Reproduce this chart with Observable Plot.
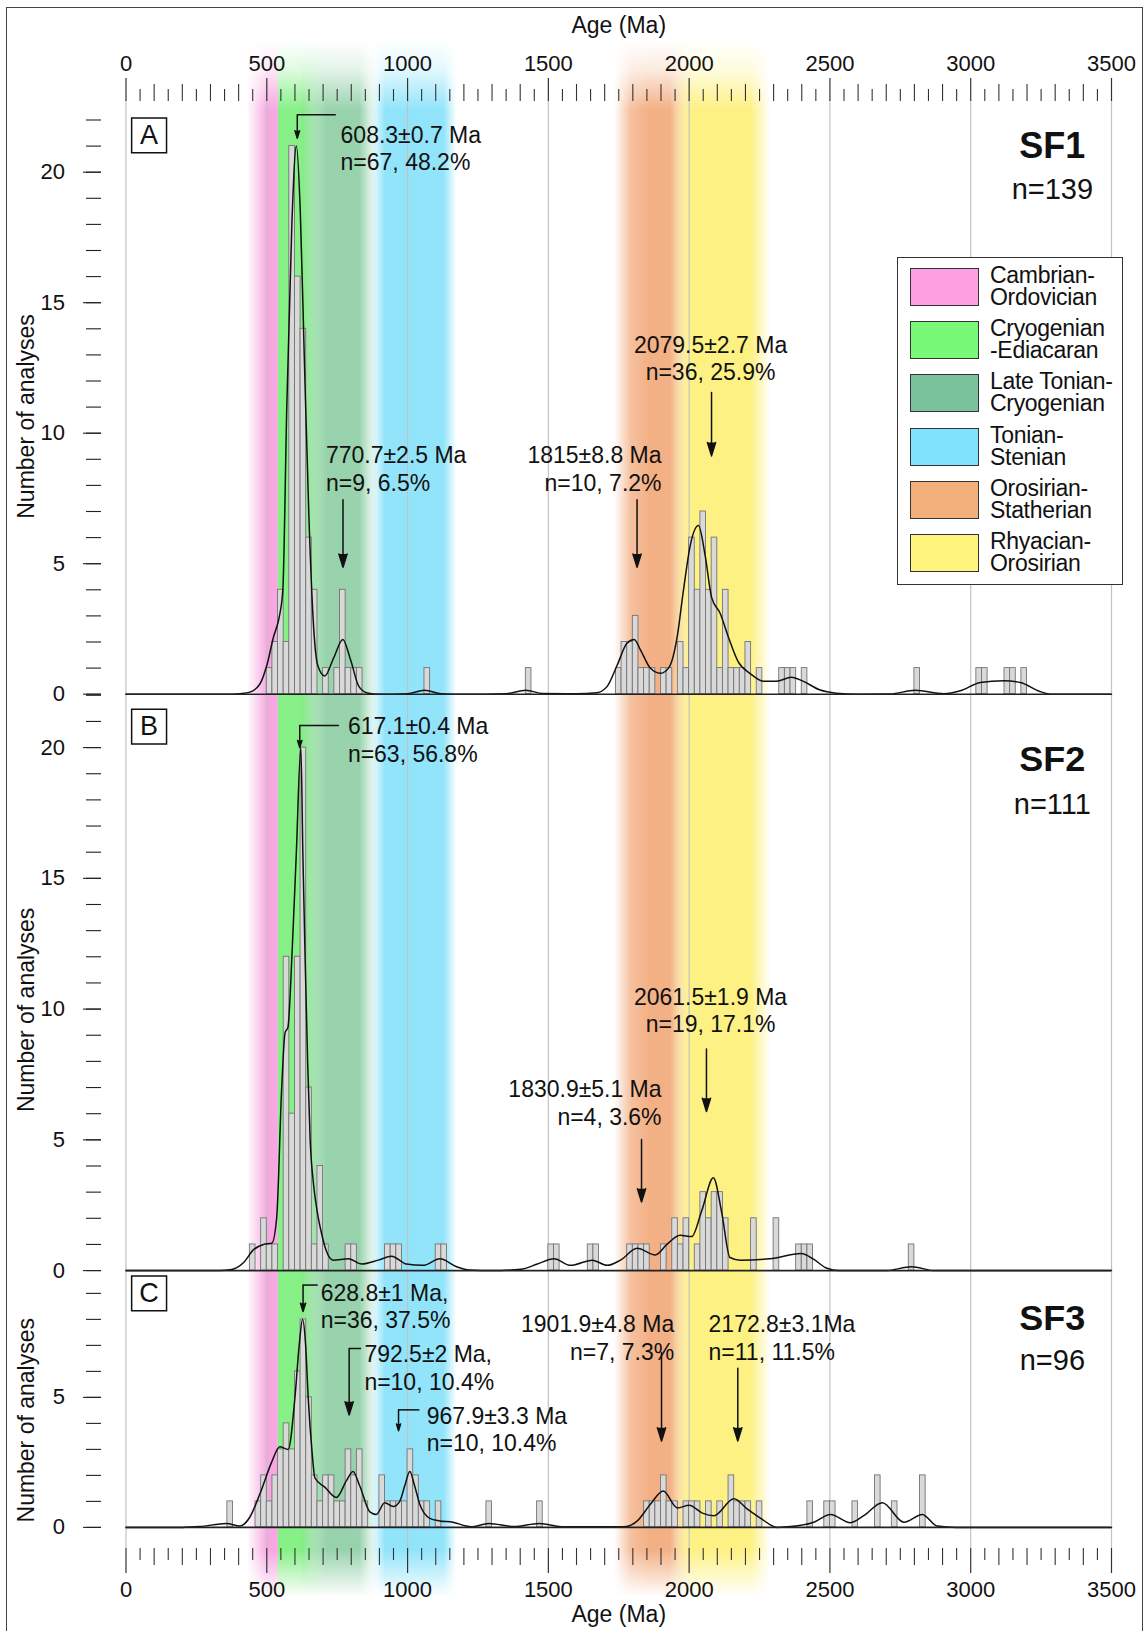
<!DOCTYPE html>
<html>
<head>
<meta charset="utf-8">
<script src="https://cdn.jsdelivr.net/npm/d3@7"></script>
<script src="https://cdn.jsdelivr.net/npm/@observablehq/plot@0.6"></script>
<style>
  html,body{margin:0;padding:0;background:#fff;}
  #fig{position:relative;width:1144px;height:1631px;overflow:hidden;font-family:"Liberation Sans",Arial,Helvetica,sans-serif;color:#111;}
  #fig > svg{position:absolute;left:0;}
  #frame{position:absolute;left:6px;top:7px;width:1137px;height:1630px;border:1.5px solid #444;box-sizing:border-box;pointer-events:none;}
  #legend{position:absolute;left:897px;top:257px;width:226px;height:328px;border:1.5px solid #333;box-sizing:border-box;background:#fff;}
  .item{position:absolute;left:0;width:100%;height:40px;}
  .sw{position:absolute;left:12px;top:0;width:69px;height:38px;border:1.5px solid #333;box-sizing:border-box;}
  .lab{position:absolute;left:92px;top:-4px;font-size:23px;line-height:22px;white-space:pre;color:#111;letter-spacing:-0.3px;}
</style>
</head>
<body>
<div id="fig"><div id="frame"></div></div>
<script>
// ---------------- DATA ----------------
const ageTicks = [0, 500, 1000, 1500, 2000, 2500, 3000, 3500];
const ageHundredTicks = d3.range(100, 3500, 100).filter(d => d % 500 !== 0);
const ageFiftyTicks = d3.range(50, 3500, 100);
const binWidth = 20;

const bandNames = ["Cambrian-Ordovician", "Cryogenian-Ediacaran", "Late Tonian-Cryogenian", "Tonian-Stenian", "Orosirian-Statherian", "Rhyacian-Orosirian"];
const bandLegend = ["Cambrian-\nOrdovician", "Cryogenian\n-Ediacaran", "Late Tonian-\nCryogenian", "Tonian-\nStenian", "Orosirian-\nStatherian", "Rhyacian-\nOrosirian"];
const bandFrom = [430, 541, 620, 870, 1735, 1940];
const bandTo = [541, 720, 890, 1175, 2010, 2290];

const samples = ["SF1", "SF2", "SF3"];
const panelLetters = ["A", "B", "C"];
const sampleN = [139, 111, 96];

// Panel A (SF1) histogram
const binsA = [500,520,540,560,580,600,620,640,660,700,740,760,780,800,820,1060,1420,1740,1760,1780,1800,1820,1840,1860,1900,1920,1960,1980,2000,2020,2040,2060,2080,2100,2120,2140,2160,2180,2200,2240,2320,2340,2360,2400,2800,3020,3040,3120,3140,3180];
const countsA = [1,2,4,2,21,16,14,6,4,1,1,4,1,1,1,1,1,1,2,2,3,1,1,1,1,1,2,1,6,4,7,4,6,1,4,1,1,1,2,1,1,1,1,1,1,1,1,1,1,1];
// Panel A probability density curve
const curveAgeA = [0,380,405,440,476,500,524,545,557,571,589,605,619,633,649,664,681,706,738,770,798,827,857,900,1000,1060,1120,1200,1350,1420,1480,1600,1673,1709,1744,1779,1805,1827,1862,1897,1927,1956,1980,2004,2033,2057,2080,2110,2139,2174,2216,2263,2310,2363,2404,2463,2522,2600,2714,2803,2904,2963,3034,3117,3176,3247,3282,3500];
const curveDenA = [0,0,0.02,0.08,0.4,1.1,2.2,3.0,4.0,11,18,21,18.5,13,7,3,1.1,0.7,1.4,2.1,1.3,0.3,0.05,0,0.02,0.15,0.02,0,0.02,0.15,0.03,0.02,0.06,0.3,1.1,1.95,2.1,1.7,1.0,0.8,1.0,2.1,4.0,5.7,6.46,5.3,3.7,3.1,2.2,1.25,0.8,0.5,0.5,0.65,0.5,0.17,0.04,0,0.01,0.15,0.02,0.13,0.45,0.52,0.45,0.1,0,0];

// Panel B (SF2)
const binsB = [440,480,500,520,560,580,600,620,640,660,680,700,780,800,920,940,960,1100,1120,1500,1520,1640,1660,1780,1800,1820,1840,1900,1940,1960,1980,2020,2040,2060,2080,2100,2120,2220,2300,2380,2400,2420,2780];
const countsB = [1,2,1,1,12,6,12,20,7,1,4,1,1,1,1,1,1,1,1,1,1,1,1,1,1,1,1,1,2,1,2,1,3,2,3,3,2,2,2,1,1,1,1];
const curveAgeB = [0,330,370,417,453,488,518,535,553,565,575,590,605,621,628,636,645,654,666,680,695,710,736,790,837,896,943,996,1055,1115,1174,1221,1300,1402,1461,1520,1579,1656,1709,1756,1815,1880,1921,1968,2009,2045,2086,2116,2145,2181,2287,2398,2440,2487,2534,2700,2790,2870,3500];
const curveDenB = [0,0,0.03,0.3,0.8,1.0,1.05,2,7,9.1,9.3,12.2,16,20,16,12,8,5,3.3,2.2,1.4,0.8,0.4,0.45,0.25,0.4,0.55,0.25,0.2,0.45,0.15,0.02,0,0.05,0.25,0.45,0.2,0.4,0.2,0.4,0.85,0.6,1.0,1.35,1.3,2.3,3.55,2.2,0.5,0.4,0.45,0.65,0.45,0.1,0,0,0.15,0,0];

// Panel C (SF3)
const binsC = [360,460,480,500,520,540,560,580,600,620,640,660,680,700,720,740,760,780,800,820,840,900,920,940,960,980,1000,1020,1040,1060,1100,1280,1460,1840,1860,1880,1900,1920,1940,1980,2000,2020,2060,2100,2140,2160,2180,2200,2240,2420,2480,2500,2580,2660,2720,2820];
const countsC = [1,1,2,1,2,3,4,3,6,8,5,2,1,2,2,1,1,3,2,3,1,2,1,1,1,1,3,2,1,1,1,1,1,1,1,1,2,1,1,1,1,1,1,1,2,1,1,1,1,1,1,1,1,2,1,2];
const curveAgeC = [0,200,262,357,404,440,476,517,546,576,600,615,627,638,647,660,671,706,747,783,806,830,866,889,919,949,972,990,1008,1025,1043,1079,1114,1161,1208,1224,1289,1378,1467,1556,1769,1816,1863,1908,1958,2000,2047,2088,2159,2207,2254,2313,2360,2443,2502,2573,2620,2686,2763,2828,2881,2950,3500];
const curveDenC = [0,0,0.03,0.15,0.05,0.4,1.3,2.5,3.1,3.0,5,7,8.0,7,5,3,1.9,1.55,1.15,1.8,2.15,1.6,0.6,0.5,0.95,0.8,1.0,1.6,2.15,1.6,0.9,0.35,0.25,0.2,0.05,0.02,0.15,0.03,0.15,0.02,0.02,0.25,0.9,1.4,0.75,0.85,0.55,0.45,1.1,0.7,0.35,0,0.03,0.2,0.5,0.18,0.45,0.95,0.2,0.5,0.05,0,0];

// Peak annotations (age of arrow, label, placement in data units)
const peakA = {age:[608.3,770.7,1815,2079.5], text:["608.3±0.7 Ma\nn=67, 48.2%","770.7±2.5 Ma\nn=9, 6.5%","1815±8.8 Ma\nn=10, 7.2%","2079.5±2.7 Ma\nn=36, 25.9%"],
  tx:[762,710,1902,2076], ty:[20.94,8.65,8.65,12.9], anchor:["start","start","end","middle"], elbow:[745,null,null,null], yTop:[22.2,7.45,7.45,11.56], yTip:[21.3,4.86,4.86,9.13]};
const peakB = {age:[617.1,1830.9,2061.5], text:["617.1±0.4 Ma\nn=63, 56.8%","1830.9±5.1 Ma\nn=4, 3.6%","2061.5±1.9 Ma\nn=19, 17.1%"],
  tx:[788,1902,2076], ty:[20.32,6.44,9.98], anchor:["start","end","middle"], elbow:[756,null,null], yTop:[20.84,5.01,8.47], yTip:[20.0,2.62,6.08]};
const peakC = {age:[628.8,792.5,967.9,1901.9,2172.8], text:["628.8±1 Ma,\nn=36, 37.5%","792.5±2 Ma,\nn=10, 10.4%","967.9±3.3 Ma\nn=10, 10.4%","1901.9±4.8 Ma\nn=7, 7.3%","2172.8±3.1Ma\nn=11, 11.5%"],
  tx:[691.6,846.6,1068,1947,2069], ty:[8.52,6.16,3.8,7.32,7.32], anchor:["start","start","start","end","start"], elbow:[681,835,1042,null,null], yTop:[9.32,6.88,4.52,6.72,6.12], yTip:[8.3,4.32,3.72,3.32,3.32]};

// ---------------- STYLE ----------------
const FONT = '"Liberation Sans", Arial, Helvetica, sans-serif';
const W = 1144, ML = 125.5, MR = 33;
const bandColor = ["#f6a2df", "#80ef80", "#86cb9f", "#88e2fa", "#f2a878", "#fdf07c"];
const legendColor = ["#fd9fe0", "#78fa78", "#79c29b", "#80e2fc", "#f1b07c", "#fff47c"];
const bandStops = [
  [[0,0],[0.3,0.4],[0.6,0.85],[0.68,0.95],[1,0.95]],
  [[0,0.95],[0.5,0.95],[1,0]],
  [[0,0],[0.35,0.85],[0.78,0.85],[1,0]],
  [[0,0],[0.17,0.92],[0.85,0.92],[1,0]],
  [[0,0],[0.22,0.72],[0.45,0.9],[0.72,0.9],[1,0]],
  [[0,0],[0.2,0.95],[0.8,0.95],[1,0]]
];

const fig = d3.select("#fig");

// ---------------- BACKGROUND: bands, grid, age axes ----------------
const bg = Plot.plot({
  width: W, height: 1631, marginLeft: ML, marginRight: MR, marginTop: 100, marginBottom: 83,
  x: {domain: [0, 3500]}, y: {domain: [0, 1], axis: null},
  style: {background: "transparent", overflow: "visible", fontFamily: FONT, color: "#111"},
  marks: [
    ...bandNames.map((n, i) => Plot.rect([i], {x1: j => bandFrom[j], x2: j => bandTo[j], insetTop: -65, insetBottom: -47, fill: `url(#band${i})`})),
    Plot.ruleX(ageTicks, {stroke: "#c2c2c2", strokeWidth: 1.2}),
    Plot.axisX({anchor: "top", ticks: ageFiftyTicks, tickSize: 12, tickFormat: () => "", label: null, stroke: "#333", strokeWidth: 1.1}),
    Plot.axisX({anchor: "top", ticks: ageHundredTicks, tickSize: 17, tickFormat: () => "", label: null, stroke: "#333", strokeWidth: 1.1}),
    Plot.axisX({anchor: "top", ticks: ageTicks, tickSize: 23, tickPadding: 7, tickFormat: "d", label: null, fontSize: 22, stroke: "#333", strokeWidth: 1.2}),
    Plot.axisX({anchor: "bottom", ticks: ageFiftyTicks, tickSize: 12, tickFormat: () => "", label: null, stroke: "#333", strokeWidth: 1.1}),
    Plot.axisX({anchor: "bottom", ticks: ageHundredTicks, tickSize: 17, tickFormat: () => "", label: null, stroke: "#333", strokeWidth: 1.1}),
    Plot.axisX({anchor: "bottom", ticks: ageTicks, tickSize: 25, tickPadding: 8, tickFormat: "d", label: null, fontSize: 22, stroke: "#333", strokeWidth: 1.2}),
    Plot.text(["Age (Ma)"], {frameAnchor: "top", lineAnchor: "middle", dy: -75, fontSize: 23, fill: "#111"}),
    Plot.text(["Age (Ma)"], {frameAnchor: "bottom", lineAnchor: "middle", dy: 66, fontSize: 23, fill: "#111"})
  ]
});
bg.style.top = "0px";
fig.node().appendChild(bg);
{
  const s = d3.select(bg);
  const defs = s.insert("defs", ":first-child");
  bandNames.forEach((n, i) => {
    const g = defs.append("linearGradient").attr("id", "band" + i).attr("x1", 0).attr("x2", 1).attr("y1", 0).attr("y2", 0);
    bandStops[i].forEach(([o, a]) => g.append("stop").attr("offset", o).attr("stop-color", bandColor[i]).attr("stop-opacity", a));
  });
  const vg = defs.append("linearGradient").attr("id", "vgrad").attr("gradientUnits", "userSpaceOnUse").attr("x1", 0).attr("x2", 0).attr("y1", 0).attr("y2", 1631);
  [[0, "#000"], [40 / 1631, "#000"], [70 / 1631, "#444"], [110 / 1631, "#fff"], [1550 / 1631, "#fff"], [1597 / 1631, "#000"], [1, "#000"]]
    .forEach(([o, c]) => vg.append("stop").attr("offset", o).attr("stop-color", c));
  const m = defs.append("mask").attr("id", "vfade").attr("maskUnits", "userSpaceOnUse").attr("x", 0).attr("y", 0).attr("width", W).attr("height", 1631);
  m.append("rect").attr("width", W).attr("height", 1631).attr("fill", "url(#vgrad)");
  s.selectAll('g[aria-label="rect"]').attr("mask", "url(#vfade)");
}

// ---------------- PANELS ----------------
function panelPlot(p) {
  const idx = d3.range(p.bins.length);
  const cidx = d3.range(p.curveAge.length);
  const a = p.anno;
  const aidx = d3.range(a.age.length);
  const elbowIdx = aidx.filter(i => a.elbow[i] != null);
  const textMarks = ["start", "middle", "end"].map(anc =>
    Plot.text(aidx.filter(i => a.anchor[i] === anc), {x: i => a.tx[i], y: i => a.ty[i], text: i => a.text[i], textAnchor: anc, fontSize: 23, lineHeight: 1.2, fill: "#111"}));
  const plot = Plot.plot({
    width: W, height: p.height, marginLeft: ML, marginRight: MR, marginTop: p.mt, marginBottom: p.mb,
    x: {domain: [0, 3500], axis: null}, y: {domain: [0, p.yMax], axis: null},
    style: {background: "transparent", overflow: "visible", fontFamily: FONT, color: "#111"},
    marks: [
      Plot.rect(idx, {x1: i => p.bins[i], x2: i => p.bins[i] + binWidth, y1: () => 0, y2: i => p.counts[i], fill: "#d9d9d9", stroke: "#747474", strokeWidth: 0.9}),
      Plot.line(cidx, {x: i => p.curveAge[i], y: i => p.curveDen[i], curve: "monotone-x", stroke: "#111", strokeWidth: 1.5}),
      Plot.ruleY([0], {stroke: "#222", strokeWidth: 1.6}),
      Plot.axisY({ticks: p.minorY, tickSize: 15, dx: -24.5, tickFormat: () => "", label: null, stroke: "#222", strokeWidth: 1.1}),
      Plot.axisY({ticks: p.majorY, tickSize: 18, dx: -24.5, tickPadding: 18.5, tickFormat: "d", label: null, fontSize: 22, stroke: "#222", strokeWidth: 1.1}),
      Plot.text([p.yLabelAt], {y: d => d, frameAnchor: "left", textAnchor: "middle", lineAnchor: "middle", dx: -99.5, rotate: -90, text: () => "Number of analyses", fontSize: 23, fill: "#111"}),
      Plot.link(elbowIdx, {x1: i => a.elbow[i], y1: i => a.yTop[i], x2: i => a.age[i], y2: i => a.yTop[i], stroke: "#111", strokeWidth: 1.5}),
      Plot.arrow(aidx, {x1: i => a.age[i], y1: i => a.yTop[i], x2: i => a.age[i], y2: i => a.yTip[i], stroke: "#111", strokeWidth: 1.5, headLength: 14, headAngle: 34}),
      ...textMarks,
      Plot.dot([p.letter], {x: () => p.boxX, y: () => p.boxY, symbol: "square", r: 19.7, fill: "#fff", stroke: "#111", strokeWidth: 1.5}),
      Plot.text([p.letter], {x: () => p.boxX, y: () => p.boxY, text: d => d, fontSize: 27, fill: "#111"}),
      Plot.text([p.sample], {x: () => p.labX, y: () => p.sY, text: d => d, fontSize: 36, fontWeight: "bold", fill: "#111"}),
      Plot.text([p.n], {x: () => p.labX, y: () => p.nY, text: d => "n=" + d, fontSize: 29, fill: "#111"})
    ]
  });
  d3.select(plot).selectAll('g[aria-label="arrow"] path').attr("fill", "#111").attr("stroke-linejoin", "miter");
  plot.style.top = p.top + "px";
  fig.node().appendChild(plot);
}

const panelCfg = [
  {top: 0, height: 700, mt: 100, mb: 6.3, yMax: 22.747, bins: binsA, counts: countsA, curveAge: curveAgeA, curveDen: curveDenA, anno: peakA,
   majorY: [0,5,10,15,20], minorY: d3.range(0, 23), yLabelAt: 10.64, boxX: 82, boxY: 21.41, sY: 20.99, nY: 19.33},
  {top: 643.7, height: 632.1, mt: 50, mb: 6, yMax: 22.03, bins: binsB, counts: countsB, curveAge: curveAgeB, curveDen: curveDenB, anno: peakB,
   majorY: [0,5,10,15,20], minorY: d3.range(0, 23), yLabelAt: 9.97, boxX: 82, boxY: 20.8, sY: 19.53, nY: 17.8},
  {top: 1219.8, height: 312.9, mt: 50, mb: 6, yMax: 9.88, bins: binsC, counts: countsC, curveAge: curveAgeC, curveDen: curveDenC, anno: peakC,
   majorY: [0,5], minorY: d3.range(0, 10), yLabelAt: 4.12, boxX: 82, boxY: 9.0, sY: 8.04, nY: 6.41}
];
panelCfg.forEach((p, i) => panelPlot({...p, letter: panelLetters[i], sample: samples[i], n: sampleN[i], labX: 3290}));

// ---------------- LEGEND ----------------
const legend = fig.append("div").attr("id", "legend");
bandNames.forEach((n, i) => {
  const it = legend.append("div").attr("class", "item").style("top", (9.8 + i * 53.3) + "px");
  it.append("div").attr("class", "sw").style("background", legendColor[i]);
  it.append("div").attr("class", "lab").text(bandLegend[i]);
});
fig.node().appendChild(document.getElementById("frame"));
</script>
</body>
</html>
